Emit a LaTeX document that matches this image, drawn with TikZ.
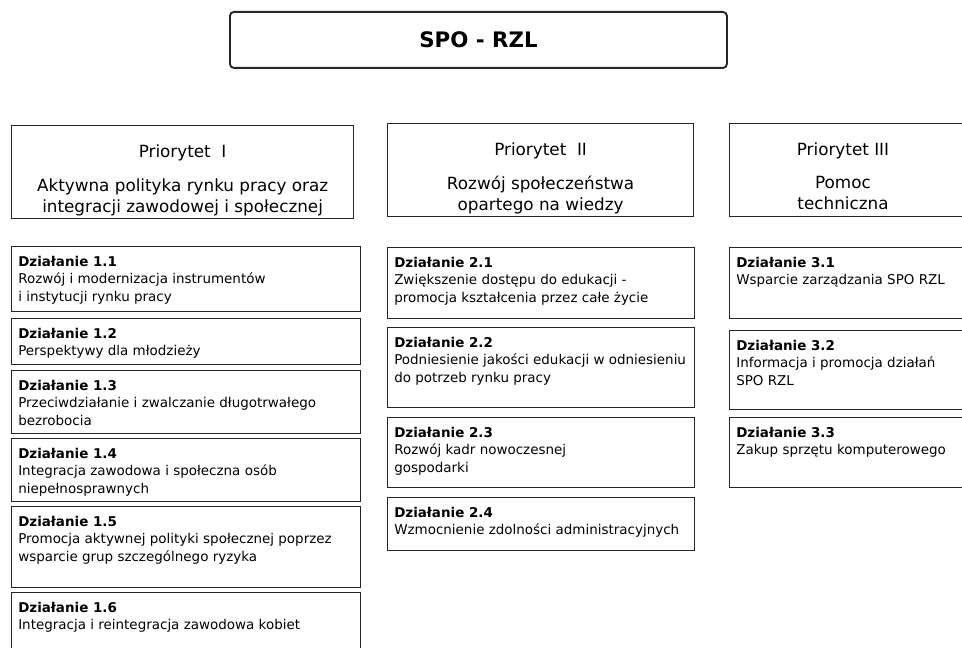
\documentclass[tikz,border=0pt]{standalone}
\usepackage{fontspec}
\setmainfont{DejaVu Sans}
\tikzset{
  frame/.style 2 args={draw=black!85, line width=0.9pt, anchor=north west, inner sep=0pt,
    minimum width=#1*0.75pt, minimum height=#2*0.75pt},
  title/.style={frame={#1}{56}, line width=1.4pt, rounded corners=3pt},
  ptext/.style={anchor=north, inner sep=0pt, align=center, font=\fontsize{12.6}{15.75}\selectfont},
  dtext/.style={anchor=north west, inner sep=0pt, align=left, font=\fontsize{10.1}{13}\selectfont},
}

\begin{document}
\begin{tikzpicture}[x=0.75pt, y=-0.75pt]
\useasboundingbox (0,0) rectangle (962,648);
\clip (0,0) rectangle (962,648);
% top
\node[title=497] (spo) at (229,11) {};
\node[font=\fontsize{16}{18}\selectfont\bfseries] at (spo.center) {SPO - RZL};
% priorities
\node[frame={342}{93}] (p1) at (11,125) {};
\node[frame={306}{93}] (p2) at (387,123) {};
\node[frame={240}{93}] (p3) at (729,123) {};
\node[ptext] (p1t) at ([shift={(0,19)}]p1.north) {Priorytet\ \ I};
\node[ptext] (p1d) at ([shift={(0,53)}]p1.north) {Aktywna polityka rynku pracy oraz\\integracji zawodowej i społecznej};
\node[ptext] (p2t) at ([shift={(0,19)}]p2.north) {Priorytet\ \ II};
\node[ptext] (p2d) at ([shift={(0,53)}]p2.north) {Rozwój społeczeństwa\\opartego na wiedzy};
\node[ptext] (p3t) at ([shift={(114,19)}]p3.north west) {Priorytet III};
\node[ptext] (p3d) at ([shift={(114,53)}]p3.north west) {Pomoc\\techniczna};
% Priorytet I
\node[frame={349}{65}] (d11) at (11,246) {};
\node[frame={349}{46}] (d12) at (11,318) {};
\node[frame={349}{63}] (d13) at (11,370) {};
\node[frame={349}{63}] (d14) at (11,438) {};
\node[frame={349}{81}] (d15) at (11,506) {};
\node[frame={349}{80}] (d16) at (11,592) {};
\node[dtext] at ([shift={(7,10)}]d11.north west) {\textbf{Działanie 1.1}\\Rozwój i modernizacja instrumentów\\i instytucji rynku pracy};
\node[dtext] at ([shift={(7,10)}]d12.north west) {\textbf{Działanie 1.2}\\Perspektywy dla młodzieży};
\node[dtext] at ([shift={(7,10)}]d13.north west) {\textbf{Działanie 1.3}\\Przeciwdziałanie i zwalczanie długotrwałego\\bezrobocia};
\node[dtext] at ([shift={(7,10)}]d14.north west) {\textbf{Działanie 1.4}\\Integracja zawodowa i społeczna osób\\niepełnosprawnych};
\node[dtext] at ([shift={(7,10)}]d15.north west) {\textbf{Działanie 1.5}\\Promocja aktywnej polityki społecznej poprzez\\wsparcie grup szczególnego ryzyka};
\node[dtext] at ([shift={(7,10)}]d16.north west) {\textbf{Działanie 1.6}\\Integracja i reintegracja zawodowa kobiet};
% Priorytet II
\node[frame={307}{71}] (d21) at (387,247) {};
\node[frame={307}{80}] (d22) at (387,327) {};
\node[frame={307}{70}] (d23) at (387,417) {};
\node[frame={307}{53}] (d24) at (387,497) {};
\node[dtext] at ([shift={(7,10)}]d21.north west) {\textbf{Działanie 2.1}\\Zwiększenie dostępu do edukacji -\\promocja kształcenia przez całe życie};
\node[dtext] at ([shift={(7,10)}]d22.north west) {\textbf{Działanie 2.2}\\Podniesienie jakości edukacji w odniesieniu\\do potrzeb rynku pracy};
\node[dtext] at ([shift={(7,10)}]d23.north west) {\textbf{Działanie 2.3}\\Rozwój kadr nowoczesnej\\gospodarki};
\node[dtext] at ([shift={(7,10)}]d24.north west) {\textbf{Działanie 2.4}\\Wzmocnienie zdolności administracyjnych};
% Priorytet III
\node[frame={240}{71}] (d31) at (729,247) {};
\node[frame={240}{79}] (d32) at (729,330) {};
\node[frame={240}{70}] (d33) at (729,417) {};
\node[dtext] at ([shift={(7,10)}]d31.north west) {\textbf{Działanie 3.1}\\Wsparcie zarządzania SPO RZL};
\node[dtext] at ([shift={(7,10)}]d32.north west) {\textbf{Działanie 3.2}\\Informacja i promocja działań\\SPO RZL};
\node[dtext] at ([shift={(7,10)}]d33.north west) {\textbf{Działanie 3.3}\\Zakup sprzętu komputerowego};
\end{tikzpicture}
\end{document}
